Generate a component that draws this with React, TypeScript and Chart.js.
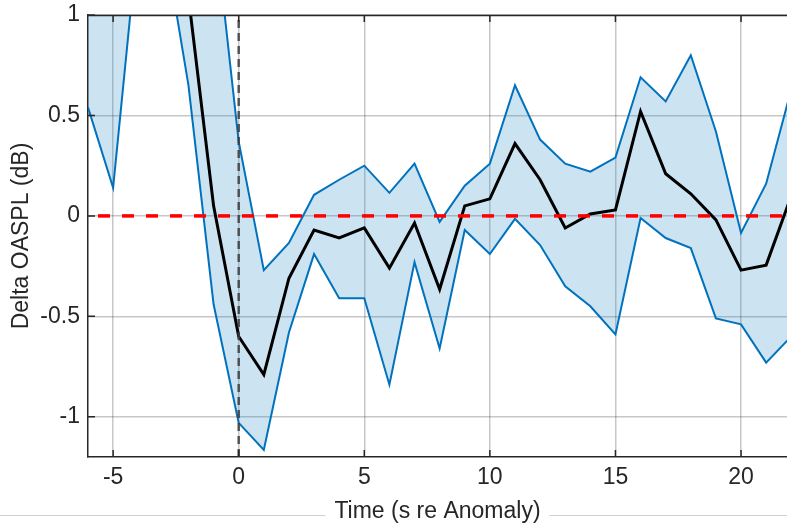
import React, { useEffect, useRef } from 'react';
import { Chart, registerables } from 'chart.js';

Chart.register(...registerables);

// ---- data ----
const times = [-6, -5, -4, -3, -2, -1, 0, 1, 2, 3, 4, 5, 6, 7, 8, 9, 10, 11, 12, 13, 14, 15, 16, 17, 18, 19, 20, 21, 22];
const meanDelta = [1.9, 2.0, 1.8, 1.6, 1.09, 0.05, -0.6, -0.79, -0.31, -0.07, -0.11, -0.06, -0.26, -0.035, -0.365, 0.05, 0.085, 0.36, 0.18, -0.06, 0.01, 0.03, 0.52, 0.21, 0.11, -0.02, -0.27, -0.245, 0.1];
const upperBound = [2.2, 2.1, 2.3, 2.0, 1.9, 1.5, 0.37, -0.27, -0.135, 0.105, 0.18, 0.25, 0.115, 0.26, -0.03, 0.15, 0.26, 0.65, 0.38, 0.26, 0.22, 0.29, 0.69, 0.57, 0.8, 0.42, -0.085, 0.16, 0.63];
const lowerBound = [0.54, 0.14, 1.4, 1.4, 0.65, -0.44, -1.03, -1.165, -0.58, -0.19, -0.41, -0.41, -0.84, -0.23, -0.66, -0.07, -0.19, -0.015, -0.145, -0.35, -0.45, -0.59, -0.01, -0.11, -0.16, -0.51, -0.54, -0.73, -0.6];
const xTicks = [-5, 0, 5, 10, 15, 20];
const yTicks = [-1, -0.5, 0, 0.5, 1];
const X_MIN = -6;
const X_MAX = 21.83;
const Y_MIN = -1.2;
const Y_MAX = 1;
const anomalyTime = 0;
const zeroLevel = 0;
const X_TITLE = 'Time (s re Anomaly)';
const Y_TITLE = 'Delta OASPL (dB)';

// ---- styles ----
const FONT = '"Liberation Sans", Arial, Helvetica, sans-serif';
const TEXT = '#262626';
const AXIS = '#262626';
const GRID = 'rgba(0,0,0,0.22)';
const BLUE = '#0072BD';
const FILL = 'rgba(0,114,189,0.2)';

const framePlugin = {
  id: 'matlabFrame',
  beforeDraw(chart: any) {
    const ctx = chart.ctx;
    const xs = chart.scales.x;
    ctx.save();
    ctx.font = `23px ${FONT}`;
    const w = ctx.measureText(X_TITLE).width;
    const cx = (xs.left + xs.right) / 2;
    const y = xs.bottom - 9.5;
    ctx.strokeStyle = '#cfcfcf';
    ctx.lineWidth = 1;
    ctx.beginPath();
    ctx.moveTo(0, y);
    ctx.lineTo(cx - w / 2 - 9, y);
    ctx.moveTo(cx + w / 2 + 9, y);
    ctx.lineTo(chart.width, y);
    ctx.stroke();
    ctx.restore();
  },
  afterDraw(chart: any) {
    const ctx = chart.ctx;
    const { left, right, top, bottom } = chart.chartArea;
    const xs = chart.scales.x;
    const ys = chart.scales.y;
    const tl = 7;
    ctx.save();
    ctx.strokeStyle = AXIS;
    ctx.lineWidth = 1.5;
    ctx.beginPath();
    ctx.moveTo(left, top + 0.5);
    ctx.lineTo(right, top + 0.5);
    for (const v of xTicks) {
      const px = xs.getPixelForValue(v);
      ctx.moveTo(px, bottom);
      ctx.lineTo(px, bottom - tl);
      ctx.moveTo(px, top);
      ctx.lineTo(px, top + tl);
    }
    for (const v of yTicks) {
      const py = ys.getPixelForValue(v);
      ctx.moveTo(left, py);
      ctx.lineTo(left + tl, py);
    }
    ctx.stroke();
    ctx.restore();
  },
};

const pts = (ys: number[]) => times.map((t, i) => ({ x: t, y: ys[i] }));

export default function App() {
  const ref = useRef<HTMLCanvasElement | null>(null);
  useEffect(() => {
    if (!ref.current) return;
    const font = { family: FONT, size: 23 };
    const chart = new Chart(ref.current, {
      type: 'line',
      data: {
        datasets: [
          {
            label: 'upper',
            data: pts(upperBound),
            borderColor: BLUE,
            borderWidth: 2,
            pointRadius: 0,
            fill: 1,
            backgroundColor: FILL,
            order: 4,
          },
          {
            label: 'lower',
            data: pts(lowerBound),
            borderColor: BLUE,
            borderWidth: 2,
            pointRadius: 0,
            fill: false,
            order: 3,
          },
          {
            label: 'mean',
            data: pts(meanDelta),
            borderColor: '#000000',
            borderWidth: 3,
            pointRadius: 0,
            fill: false,
            order: 2,
          },
          {
            label: 'anomaly',
            data: [
              { x: anomalyTime, y: Y_MIN },
              { x: anomalyTime, y: Y_MAX },
            ],
            borderColor: 'rgba(60,60,60,0.85)',
            borderWidth: 2.5,
            borderDash: [8, 5],
            pointRadius: 0,
            fill: false,
            order: 1,
          },
          {
            label: 'zero',
            data: [
              { x: X_MIN, y: zeroLevel },
              { x: X_MAX, y: zeroLevel },
            ],
            borderColor: '#ff0000',
            borderWidth: 3.5,
            borderDash: [12, 12],
            borderDashOffset: 14,
            pointRadius: 0,
            fill: false,
            order: 0,
          },
        ],
      },
      options: {
        responsive: false,
        maintainAspectRatio: false,
        animation: false,
        layout: { padding: { left: 0, right: 0, top: 0, bottom: 0 } },
        plugins: {
          legend: { display: false },
          tooltip: { enabled: false },
        },
        scales: {
          x: {
            type: 'linear',
            min: X_MIN,
            max: X_MAX,
            afterBuildTicks: (ax: any) => {
              ax.ticks = xTicks.map((v) => ({ value: v }));
            },
            afterFit: (ax: any) => {
              ax.height = 68;
              ax.paddingLeft = 0;
              ax.paddingRight = 0;
            },
            grid: { color: GRID, lineWidth: 1.5, drawTicks: false },
            border: { display: true, color: AXIS, width: 1.5 },
            ticks: {
              padding: 7,
              color: TEXT,
              font,
              maxRotation: 0,
              autoSkip: false,
              callback: (v: any) => String(v),
            },
            title: {
              display: true,
              text: X_TITLE,
              color: TEXT,
              font,
              padding: { top: 0, bottom: 0 },
            },
          },
          y: {
            type: 'linear',
            min: Y_MIN,
            max: Y_MAX,
            afterBuildTicks: (ax: any) => {
              ax.ticks = yTicks.map((v) => ({ value: v }));
            },
            afterFit: (ax: any) => {
              ax.width = 88;
              ax.paddingTop = 15;
              ax.paddingBottom = 0;
            },
            grid: { color: GRID, lineWidth: 1.5, drawTicks: false },
            border: { display: true, color: AXIS, width: 1.5 },
            ticks: {
              padding: 8,
              color: TEXT,
              font,
              autoSkip: false,
              callback: (v: any) => String(v),
            },
            title: {
              display: true,
              text: Y_TITLE,
              color: TEXT,
              font,
              padding: { top: 8, bottom: 0 },
            },
          },
        },
      },
      plugins: [framePlugin],
    } as any);
    return () => chart.destroy();
  }, []);

  return (
    <div style={{ position: 'fixed', left: 0, top: 0, width: 787, height: 525, background: '#fff' }}>
      <canvas ref={ref} width={787} height={525} style={{ width: 787, height: 525, display: 'block' }} />
    </div>
  );
}
